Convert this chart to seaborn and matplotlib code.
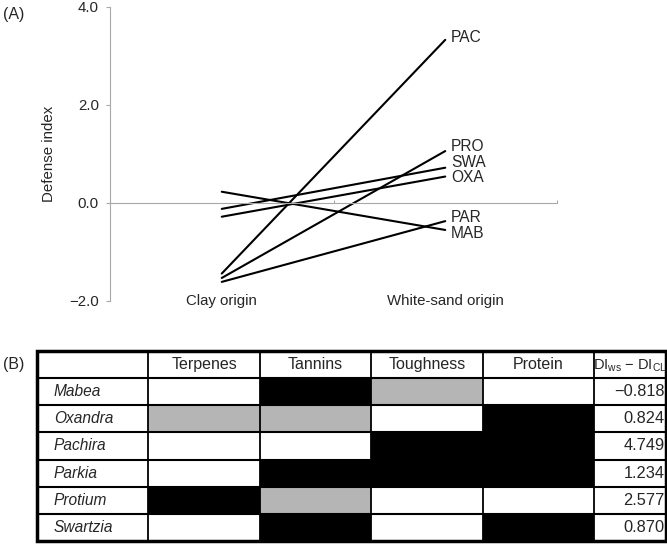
import numpy as np
import pandas as pd
import matplotlib
matplotlib.use("Agg")
import matplotlib.pyplot as plt
from matplotlib.colors import ListedColormap
import seaborn as sns

# --- panel A data ---
species_codes = ["PAC", "PRO", "SWA", "OXA", "PAR", "MAB"]
clay_origin = [-1.44, -1.53, -0.12, -0.28, -1.61, 0.23]
white_sand_origin = [3.33, 1.06, 0.72, 0.54, -0.37, -0.55]
origins = ["Clay origin", "White-sand origin"]
y_ticks = [-2.0, 0.0, 2.0, 4.0]
y_tick_labels = ["\u22122.0", "0.0", "2.0", "4.0"]

# --- panel B data ---
genera = ["Mabea", "Oxandra", "Pachira", "Parkia", "Protium", "Swartzia"]
traits = ["Terpenes", "Tannins", "Toughness", "Protein"]
# 0 = white, 1 = grey, 2 = black
trait_codes = [
    [0, 2, 1, 0],
    [1, 1, 0, 2],
    [0, 0, 2, 2],
    [0, 2, 2, 2],
    [2, 1, 0, 0],
    [0, 2, 0, 2],
]
di_diff = ["\u22120.818", "0.824", "4.749", "1.234", "2.577", "0.870"]

sns.set_style("white")
plt.rcParams["font.family"] = ["Liberation Sans", "DejaVu Sans"]
plt.rcParams["mathtext.fontset"] = "custom"
plt.rcParams["mathtext.rm"] = "Liberation Sans"

fig = plt.figure(figsize=(6.67, 5.46), dpi=100)

# ---------------- panel A ----------------
ax = fig.add_axes([110 / 667, 1 - 301 / 546, 447 / 667, 294 / 546])
df = pd.DataFrame({
    "species": species_codes * 2,
    "origin": [0] * len(species_codes) + [1] * len(species_codes),
    "di": clay_origin + white_sand_origin,
})
sns.lineplot(data=df, x="origin", y="di", units="species", estimator=None,
             color="black", lw=1.5, ax=ax, legend=False)
ax.set_xlim(-0.5, 1.5)
ax.set_ylim(-2.0, 4.0)

grey = "#a8a8a8"
for side in ["top", "right"]:
    ax.spines[side].set_visible(False)
ax.spines["left"].set_color(grey)
ax.spines["bottom"].set_color(grey)
ax.spines["bottom"].set_position(("data", 0))
ax.set_yticks(y_ticks)
ax.set_yticklabels(y_tick_labels, fontsize=10.8)
ax.tick_params(axis="y", length=3, color=grey, pad=5, left=True)
ax.set_xticks([-0.5, 0.5, 1.5])
ax.set_xticklabels([])
ax.tick_params(axis="x", length=2, color=grey, direction="in", bottom=True)
ax.set_xlabel("")
ax.set_ylabel("Defense index", fontsize=10.8)
ax.yaxis.set_label_coords(-0.121, 0.5)
for i, lab in enumerate(origins):
    ax.text(i, -2.0, lab, fontsize=10.8, ha="center", va="center")

nudge = {"PAC": 2, "PRO": 3.6, "SWA": 3.4, "OXA": -0.8, "PAR": 2.8, "MAB": -2.2}
for code, y in zip(species_codes, white_sand_origin):
    ax.annotate(code, (1, y), xytext=(4, nudge[code]), textcoords="offset points",
                fontsize=11.2, ha="left", va="center")

fig.text(3 / 667, 1 - 15 / 546, "(A)", fontsize=11.5, va="center")

# ---------------- panel B ----------------
di_w = 72 / 111.5
bx = fig.add_axes([37 / 667, 1 - 541 / 546, 629 / 667, 190 / 546])
sns.heatmap(np.array(trait_codes), cmap=ListedColormap(["white", "#b5b5b5", "black"]),
            vmin=-0.5, vmax=2.5, cbar=False, linewidths=0, ax=bx)
bx.set_xlim(-1, 4 + di_w)
bx.set_ylim(6, -1)
bx.set_xticks([])
bx.set_yticks([])
for s in bx.spines.values():
    s.set_visible(False)

for y in range(0, 6):
    bx.hlines(y, -1, 4 + di_w, color="black", lw=1.5)
for x in range(0, 5):
    bx.vlines(x, -1, 6, color="black", lw=1.3)
bx.add_patch(plt.Rectangle((-1, -1), 5 + di_w, 7, fill=False, lw=2.5,
                           edgecolor="black", clip_on=False))

for j, t in enumerate(traits):
    bx.text(j + 0.5, -0.5, t, fontsize=11.5, ha="center", va="center")
bx.text(4 + di_w / 2, -0.45, "DI$_{\\mathrm{ws}}$ \u2212 DI$_{\\mathrm{CL}}$",
        fontsize=10.5, ha="center", va="center")
for i, g in enumerate(genera):
    bx.text(-1 + 0.15, i + 0.5, g, fontsize=11.2, style="italic", ha="left", va="center")
    bx.text(4 + di_w - 0.01, i + 0.5, di_diff[i], fontsize=11.8, ha="right", va="center")

fig.text(3 / 667, 1 - 364 / 546, "(B)", fontsize=11.5, va="center")

fig.savefig("out.png", dpi=100)
